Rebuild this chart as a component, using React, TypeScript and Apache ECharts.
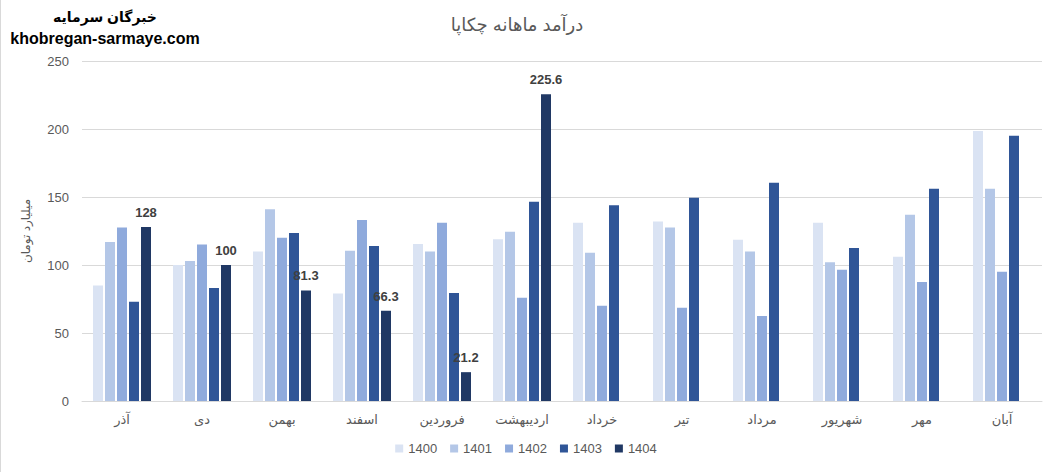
import React, { useEffect, useRef } from "react";
import * as echarts from "echarts";

const categories = ["آذر", "دی", "بهمن", "اسفند", "فروردین", "اردیبهشت", "خرداد", "تیر", "مرداد", "شهریور", "مهر", "آبان"];
const seriesNames = ["1400", "1401", "1402", "1403", "1404"];
const s1400 = [85, 100, 110, 79, 115.5, 119, 131, 132, 118.5, 131, 106, 198.5];
const s1401 = [117, 103, 141, 110.5, 110, 124.5, 109, 127.5, 110, 102, 137, 156];
const s1402 = [127.5, 115, 120, 133, 131, 76, 70, 68.5, 62.5, 96.5, 87.5, 95];
const s1403 = [73, 83, 123.5, 114, 79.5, 146.5, 144, 149.5, 160.5, 112.5, 156, 195];
const s1404 = [128, 100, 81.3, 66.3, 21.2, 225.6, null, null, null, null, null, null];
const colors = ["#DAE3F3", "#B4C7E7", "#8FAADC", "#2F5597", "#203864"];
const titleText = "درآمد ماهانه چکاپا";
const watermark1 = "خبرگان سرمایه";
const watermark2 = "khobregan-sarmaye.com";
const yAxisName = "میلیارد تومان";

const FONT = "'Liberation Sans', 'DejaVu Sans', Arial, sans-serif";

export default function App() {
  const ref = useRef<HTMLDivElement>(null);
  useEffect(() => {
    if (!ref.current) return;
    const chart = echarts.init(ref.current, null, { renderer: "svg" });
    const allData = [s1400, s1401, s1402, s1403, s1404];
    chart.setOption({
      animation: false,
      backgroundColor: "#ffffff",
      textStyle: { fontFamily: FONT },
      grid: { left: 82, right: 10, top: 61, bottom: 71, containLabel: false },
      legend: {
        bottom: 12,
        left: "center",
        itemWidth: 8,
        itemHeight: 8,
        itemGap: 13,
        icon: "rect",
        textStyle: { color: "#595959", fontSize: 13, fontFamily: FONT },
        data: seriesNames,
      },
      xAxis: {
        type: "category",
        data: categories,
        axisLine: { show: true, lineStyle: { color: "#D9D9D9" } },
        axisTick: { show: false },
        axisLabel: { color: "#595959", fontSize: 13, margin: 12, fontFamily: FONT },
      },
      yAxis: {
        type: "value",
        min: 0,
        max: 250,
        interval: 50,
        name: yAxisName,
        nameLocation: "middle",
        nameRotate: 90,
        nameGap: 50,
        nameTextStyle: { color: "#595959", fontSize: 12, fontFamily: FONT },
        axisLine: { show: false },
        axisTick: { show: false },
        axisLabel: { color: "#595959", fontSize: 13, margin: 13, fontFamily: FONT },
        splitLine: { lineStyle: { color: "#D9D9D9" } },
      },
      series: allData.map((d, i) => ({
        name: seriesNames[i],
        type: "bar",
        data: d,
        barWidth: 10,
        barGap: "20%",
        itemStyle: { color: colors[i] },
        label:
          i === 4
            ? {
                show: true,
                position: "top",
                distance: 8,
                color: "#404040",
                fontWeight: "bold",
                fontSize: 13,
                fontFamily: FONT,
              }
            : { show: false },
      })),
      graphic: [
        {
          type: "line",
          shape: { x1: 0.5, y1: 0, x2: 0.5, y2: 472 },
          style: { stroke: "#D9D9D9", lineWidth: 1 },
        },
        {
          type: "text",
          x: 517,
          y: 25,
          style: {
            text: titleText,
            fill: "#595959",
            font: `18px ${FONT}`,
            textAlign: "center",
            textVerticalAlign: "middle",
          },
        },
        {
          type: "text",
          x: 105,
          y: 17,
          style: {
            text: watermark1,
            fill: "#000000",
            font: `bold 14px ${FONT}`,
            textAlign: "center",
            textVerticalAlign: "middle",
          },
        },
        {
          type: "text",
          x: 105,
          y: 38,
          style: {
            text: watermark2,
            fill: "#000000",
            font: `bold 16px ${FONT}`,
            textAlign: "center",
            textVerticalAlign: "middle",
          },
        },
      ],
    });
    return () => chart.dispose();
  }, []);
  return (
    <div
      ref={ref}
      style={{ position: "fixed", left: 0, top: 0, width: 1052, height: 472 }}
    />
  );
}
